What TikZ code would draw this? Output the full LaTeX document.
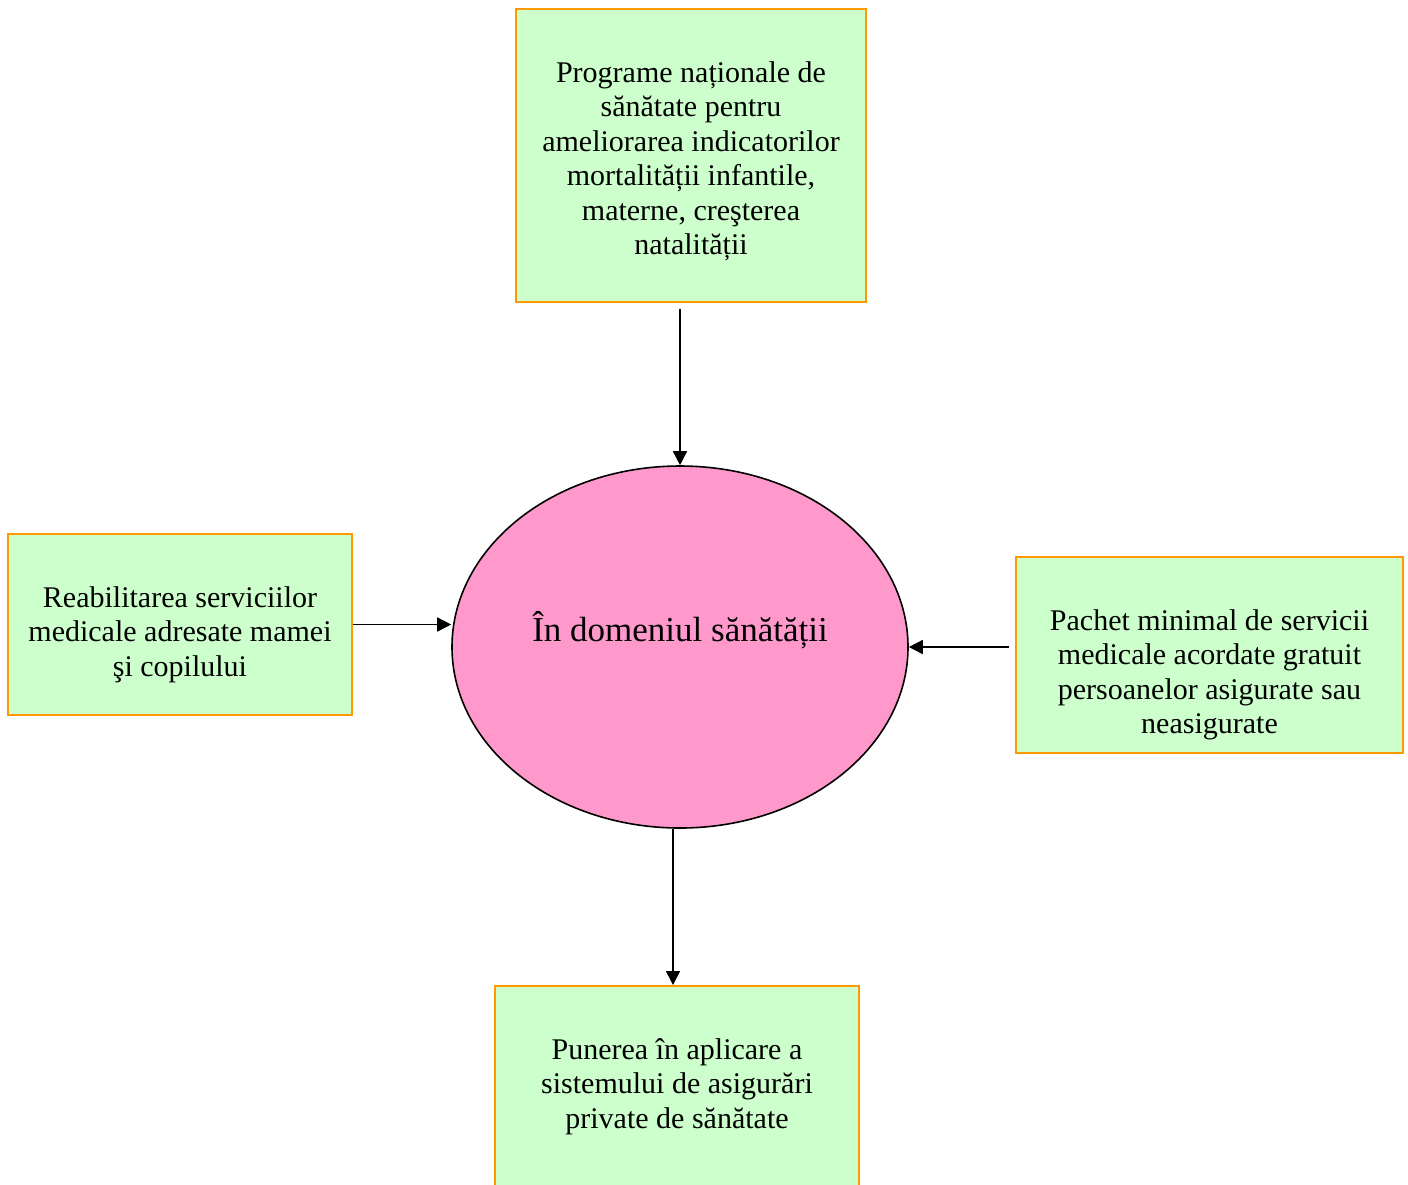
\documentclass[tikz,border=0pt]{standalone}
\usepackage{fontspec}
\setmainfont{Liberation Serif}
\usetikzlibrary{shapes.geometric, arrows.meta, positioning}

\definecolor{boxfill}{HTML}{CCFFCC}
\definecolor{boxline}{HTML}{FF9900}
\definecolor{ovalfill}{HTML}{FF99CC}

\begin{document}
\begin{tikzpicture}[x=1pt, y=-1pt,
  box/.style={draw=boxline, line width=1pt, fill=boxfill, rectangle, inner sep=0},
  txt/.style={anchor=north, yshift=-26.5pt, inner sep=0, align=center,
    font=\fontsize{15}{17.25}\selectfont},
  arr/.style={-{Triangle[length=7pt,width=7pt]}, line width=0.8pt}]
\useasboundingbox (0,0) rectangle (704,592);
% boxes
\node[box, minimum width=175pt, minimum height=146.5pt] (prog) at (345.5,77.75) {};
\node[txt] (prog-t) at (prog.north) {Programe naționale de\\ sănătate pentru\\ ameliorarea indicatorilor\\ mortalității infantile,\\ materne, creşterea\\ natalității};
\node[box, minimum width=172pt, minimum height=90.5pt] (reab) at (90,312.25) {};
\node[txt] (reab-t) at (reab.north) {Reabilitarea serviciilor\\ medicale adresate mamei\\ şi copilului};
\node[box, minimum width=193.5pt, minimum height=98pt] (pach) at (604.75,327.5) {};
\node[txt] (pach-t) at (pach.north) {Pachet minimal de servicii\\ medicale acordate gratuit\\ persoanelor asigurate sau\\ neasigurate};
\node[box, minimum width=182pt, minimum height=146.5pt] (asig) at (338.5,566.25) {};
\node[txt] (asig-t) at (asig.north) {Punerea în aplicare a\\ sistemului de asigurări\\ private de sănătate};
% centre
\node[ellipse, draw, line width=0.8pt, fill=ovalfill, minimum width=228pt, minimum height=181pt, inner sep=0] (dom) at (340,323.5) {};
\node[font=\fontsize{17.5}{20}\selectfont, inner sep=0] (dom-t) at ([yshift=8.5pt]dom.center) {În domeniul sănătății};
% arrows
\draw[arr] ([yshift=-3pt]prog.south -| dom.north) -- (dom.north);
\draw[arr] (reab.east) -- (reab.east -| dom.west);
\draw[arr] ([xshift=-3pt]pach.west |- dom.east) -- (dom.east);
\draw[arr] ([xshift=-3.5pt]dom.south) -- ([xshift=-3.5pt]dom.south |- asig.north);
\end{tikzpicture}
\end{document}
